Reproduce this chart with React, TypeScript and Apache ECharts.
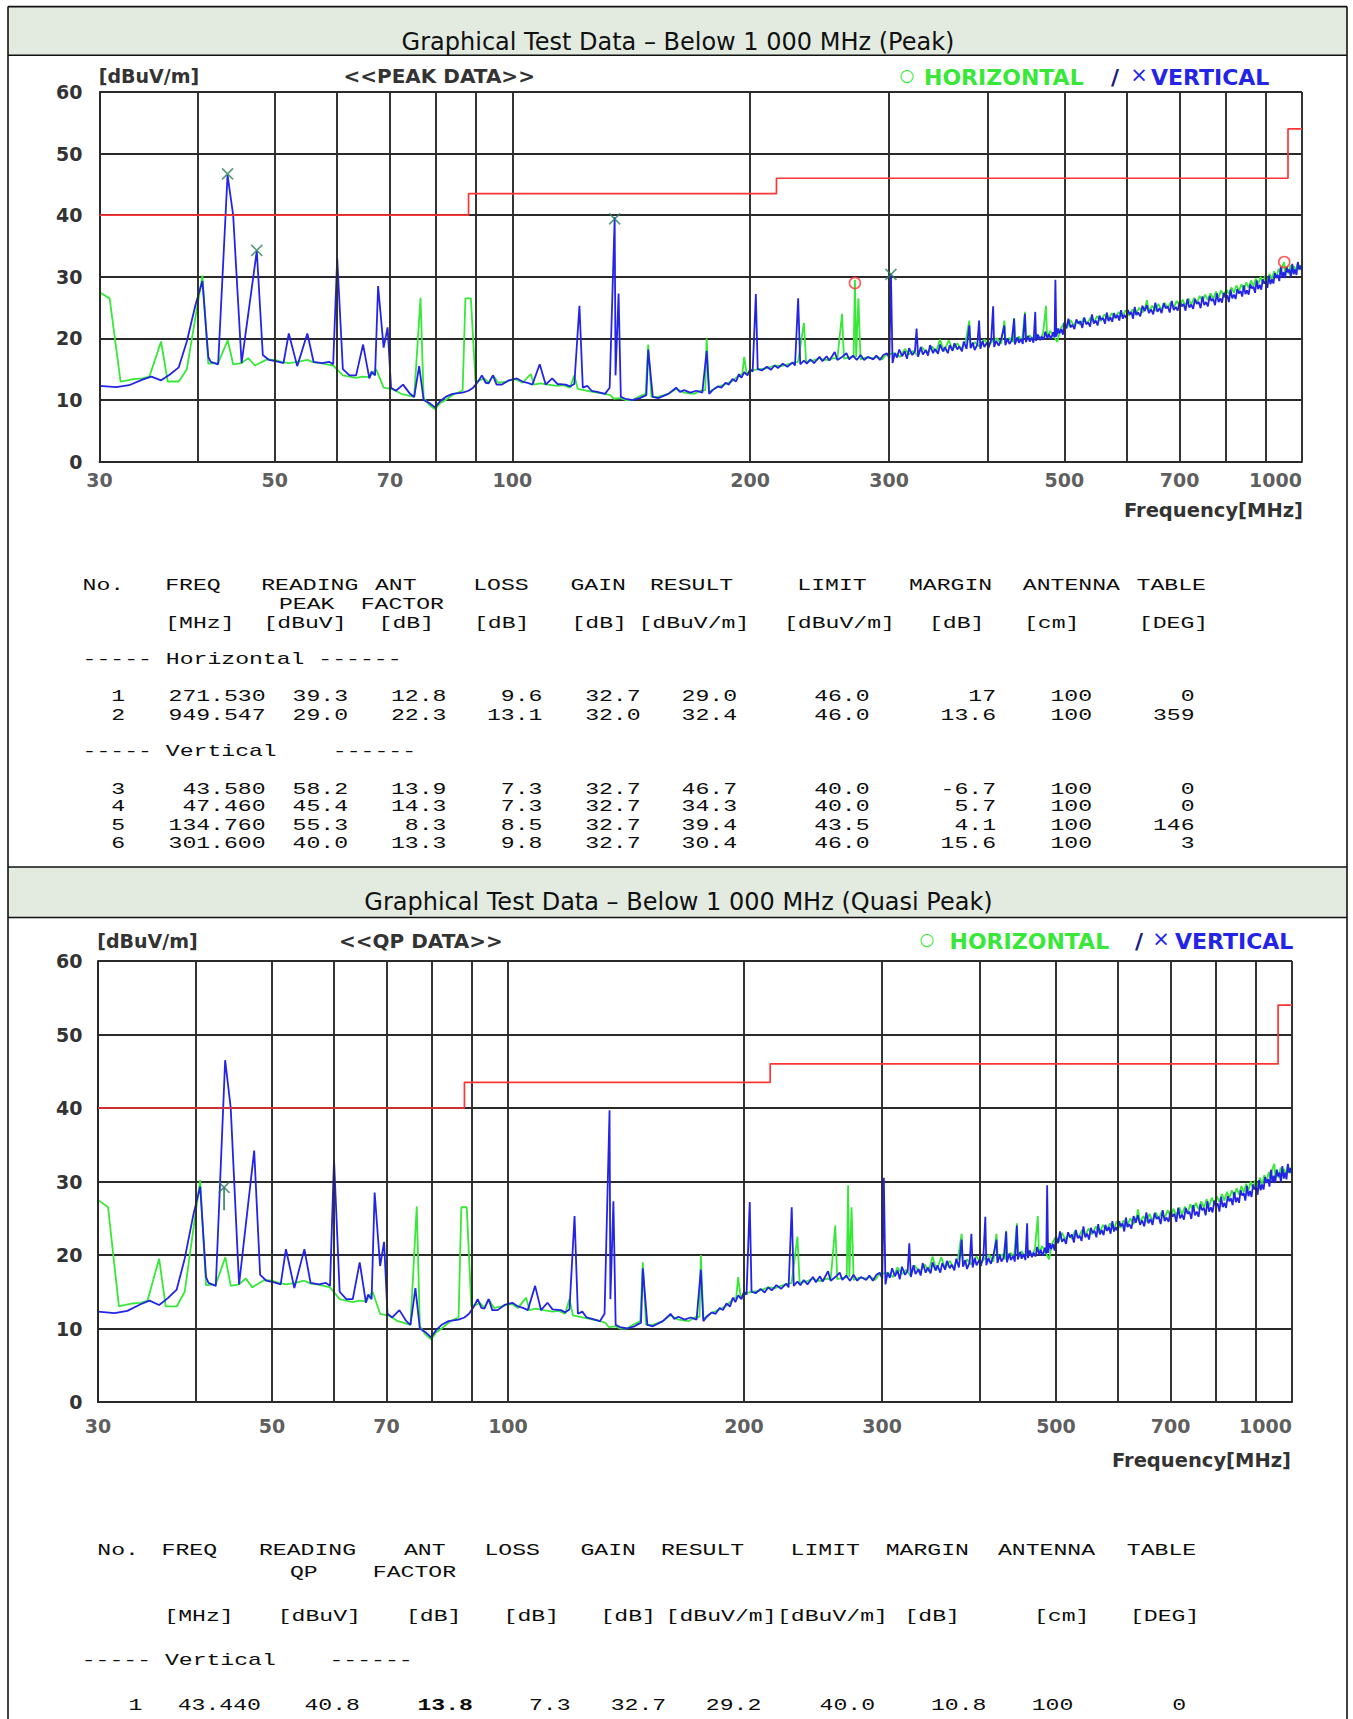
import { useEffect, useRef } from 'react';
import * as echarts from 'echarts';

// ---------------- data ----------------
const freqGridLines = [30, 40, 50, 60, 70, 80, 90, 100, 200, 300, 400, 500, 600, 700, 800, 900, 1000];
const freqTickLabels = [30, 50, 70, 100, 200, 300, 500, 700, 1000];

// green trace : horizontal polarisation [MHz, dBuV/m]
const horizontalTrace: [number, number][] = [
  [30, 27.5], [30.9, 26.5], [31.9, 13], [32.5, 13.2], [33.1, 13.4], [34, 13.5], [34.7, 13.8], [35.9, 19.5], [36.6, 13], [37.8, 13],
  [38.7, 15], [40.5, 30.2], [41.2, 15.9], [42.4, 16], [43.6, 19.7], [44.3, 15.8], [45.4, 16], [46.3, 16.8], [47.2, 15.6], [48.9, 16.6],
  [50, 16.5], [51, 16.2], [52.1, 16], [53.5, 16.2], [55, 16.5], [56, 16.1], [57.1, 16], [58.2, 15.8], [59.3, 15.6], [61, 14],
  [62.2, 13.8], [63.4, 13.6], [64.6, 13.8], [65.9, 13.7], [67.2, 15], [68.7, 12], [70.2, 11.8], [71.2, 11.5], [72.3, 11], [73.5, 10.8],
  [75.1, 10.5], [76.5, 26.6], [77.2, 10.3], [78.5, 9.2], [79.8, 8.5], [81, 9.5], [82.3, 10], [84.5, 11], [86.5, 11.5], [87.2, 26.5],
  [88.6, 26.5], [89.8, 13], [91, 13.2], [92.1, 13.5], [93.3, 12.8], [94.5, 14], [96, 12.8], [98.3, 13], [100, 13.3], [101.3, 13.3],
  [103, 12.8], [105.5, 14.2], [106.5, 12.5], [108.5, 12.7], [111, 12.5], [114, 12.3], [116, 12.4], [118.3, 12], [119.8, 14], [121, 11.8],
  [124.4, 11.5], [127, 11.3], [131, 11], [133, 10.8], [134.5, 10.2], [137, 10.3], [139, 10], [141.8, 10], [145, 10.6], [147.5, 11],
  [148.6, 19], [150, 10.5], [153, 10.5], [157.6, 11], [161.2, 11.8], [165, 11.2], [169.9, 11], [173, 11.5], [175.5, 11.6], [176.2, 20],
  [177.5, 11.3], [181, 12], [186.2, 12.6], [190, 13.1], [193.6, 14], [195.5, 14.2], [196.6, 17], [198, 14.3], [201, 14.8], [205.3, 15],
  [209, 15.1], [214.8, 15.6], [219, 15.5], [223, 15.8], [226.4, 16], [230, 16.2], [234, 22.5], [235.5, 16.2], [240, 16.4], [244.9, 16.8],
  [248, 16.5], [251.5, 16.5], [255, 16.8], [258, 16.7], [261.5, 24], [263, 16.7], [267, 16.9], [270.5, 17], [271.53, 29.5], [272.5, 17],
  [274.3, 26.5], [276, 16.6], [280, 16.9], [286.4, 16.8], [290, 17], [294, 16.6], [297, 17.3], [301.6, 17.5], [305, 17.6], [310, 17],
  [314, 18.3], [318, 17.4], [322, 18], [326, 17.2], [330, 18.6], [335, 17.6], [340, 18.7], [344, 17.8], [348, 19.8], [352, 17.9],
  [357, 19.7], [361, 18.2], [366, 19.2], [370, 18.3], [375, 19.5], [379, 22.9], [380.5, 18.5], [385, 19.4], [390, 18.7], [396, 19.8],
  [401, 18.9], [406, 19.6], [411, 20], [416, 19.1], [419.8, 22.9], [421.5, 19.3], [426, 20.1], [431, 19.4], [432, 23.3], [433.5, 19.5],
  [438, 20.3], [442, 19.5], [445.8, 24.3], [447.5, 19.7], [452, 20.5], [456, 19.8], [461, 20.7], [466, 19.9], [470, 20.8], [474, 25.3],
  [475.5, 20.2], [480, 21.2], [485, 20.3], [490, 19.4], [494, 21.5], [499, 22.4], [504, 21.8], [509, 23], [514, 22.1], [519, 22.9],
  [524, 22.2], [529, 23.3], [534, 22.4], [540, 23.4], [545, 22.6], [550, 23.6], [556, 22.8], [562, 23.9], [568, 23], [574, 24.1],
  [580, 23.3], [586, 24.3], [592, 23.5], [598, 24.6], [604, 23.7], [610, 24.7], [616, 23.9], [622, 25], [628, 24.2], [634, 25.3],
  [636, 26.2], [640, 24.4], [646, 25.3], [652, 24.5], [658, 25.6], [664, 24.6], [670, 25.8], [676, 24.9], [682, 25.9], [688, 25],
  [694, 26.1], [700, 25.2], [706, 26.3], [712, 25.3], [718, 26.5], [724, 25.5], [730, 26.6], [736, 25.7], [742, 26.9], [748, 26],
  [754, 27.1], [760, 26.2], [766, 27.3], [772, 26.4], [778, 27.6], [784, 26.6], [790, 27.8], [796, 26.9], [802, 28], [808, 27.2],
  [814, 28.3], [820, 27.4], [826, 28.6], [832, 27.7], [838, 28.8], [844, 27.9], [850, 29.1], [856, 28.2], [862, 29.4], [868, 28.5],
  [874, 29.7], [880, 28.8], [886, 30], [892, 29], [898, 30.2], [904, 29.3], [910, 30.5], [916, 29.6], [922, 30.9], [928, 29.9],
  [934, 31.3], [940, 30.4], [944, 31.7], [949.5, 32.4], [952, 30.6], [957, 31.6], [962, 30.5], [967, 31.9], [972, 30.8], [977, 31.7],
  [982, 30.9], [987, 32.1], [992, 31.1], [996, 31.9], [1000, 31.3],
];

// blue trace : vertical polarisation [MHz, dBuV/m]
const verticalTrace: [number, number][] = [
  [30, 12.3], [31.5, 12.1], [32.7, 12.4], [34, 13.3], [34.9, 13.8], [35.9, 13.2], [36.8, 14.1], [37.8, 15.3], [38.7, 19.5], [39.7, 25.5],
  [40.5, 29.3], [41.2, 17], [41.5, 16.2], [42.4, 15.8], [43.58, 46.5], [44.3, 40], [45.4, 16], [47.46, 34.2], [48.3, 17.3], [49.2, 16.5],
  [50.6, 16.2], [51.3, 16], [52.1, 20.8], [53.4, 15.5], [55, 20.8], [56, 16.2], [57.4, 16], [58.6, 16.2], [59.3, 15.8], [60, 33],
  [61, 15], [62.2, 14], [63.4, 14], [64.7, 19], [65.9, 13.5], [66.3, 14.6], [67, 14], [67.6, 28.5], [68.7, 18.5], [69.5, 21.8],
  [70.2, 12], [71.2, 11.5], [72.7, 12.5], [74.2, 11], [75.1, 10.5], [76.2, 15.5], [77.2, 10], [78.5, 9.5], [79.8, 8.8], [81, 9.8],
  [82.3, 10.5], [84, 11], [86.5, 11.2], [88, 11.5], [89.2, 12], [90.5, 13], [91.5, 14], [92.5, 12.8], [93.3, 12.7], [94.5, 14],
  [95.5, 12.5], [97, 12.5], [99, 13.2], [101.3, 13.5], [103, 13], [104.5, 12.8], [106, 12.5], [108.3, 15.8], [110.2, 12.5], [112.3, 13.5],
  [114, 12.6], [116.8, 12.5], [118.3, 12.2], [119.8, 12.6], [121.6, 25.3], [122.8, 12], [124.4, 12.3], [126, 11.5], [128, 11.3], [131, 11],
  [132.8, 12], [134.76, 39.7], [135.1, 14], [136.3, 27.3], [137.2, 10.5], [139, 10.2], [141.8, 10], [145, 10.3], [147.8, 10.8], [148.6, 18.2],
  [150.6, 10.5], [153, 10.3], [157.6, 11], [161.2, 12], [163, 11.3], [165, 11.6], [168, 11.2], [171, 11.5], [174, 11.2], [176.2, 18],
  [177.5, 11], [179.3, 11.6], [182, 12.2], [184, 12], [186.2, 12.8], [188, 12.5], [190, 13.4], [192, 13], [193.6, 14.2], [195, 13.6],
  [196.6, 14.5], [198.5, 14], [200, 15], [201.5, 14.6], [203.4, 27.2], [204.5, 15], [207, 14.8], [210, 15.4], [212.5, 14.9], [214.8, 15.6],
  [217, 15.2], [220, 15.9], [223, 15.4], [226.4, 16.1], [228, 15.6], [230.1, 26.5], [231.5, 15.8], [234, 16.4], [236, 15.9], [238.4, 16.6],
  [241, 16], [244.9, 17], [247, 16.3], [250, 17.1], [252, 16.4], [256, 17.8], [258, 16.5], [261.5, 17], [264.9, 17.6], [267, 16.6],
  [270, 17.2], [273, 16.5], [276, 17.3], [278.9, 16.5], [282, 17], [286.4, 16.6], [289, 17.2], [292, 16.5], [295, 17.3], [298, 17.6],
  [300.2, 16.8], [301.6, 30.5], [303, 16], [305, 17.6], [307, 16.9], [309, 18.2], [311.6, 17.1], [314, 17.9], [316, 16.7], [318, 18.4],
  [321, 17.3], [323.5, 17.9], [325, 21.6], [326.5, 17], [329, 18.6], [331, 17.4], [334, 18.1], [336, 17.2], [338, 18.9], [341, 17.6],
  [343, 18.3], [346, 17.5], [348, 19], [351, 17.9], [353, 18.6], [356, 17.6], [358, 18.9], [361, 18], [363, 19.2], [366, 18.2],
  [368, 18.7], [371, 17.9], [373, 19.5], [376, 18.3], [379, 22.1], [380.5, 18.4], [383, 19.3], [385, 18.1], [388, 19], [390, 22.9],
  [391.5, 18.3], [394, 19.6], [396, 18.6], [399, 19.3], [401, 18.5], [404, 19.8], [406.3, 25.2], [407.5, 18.6], [410, 19.6], [413, 18.8],
  [416, 19.9], [419.8, 22.1], [421, 18.9], [424, 20], [426, 19.1], [429, 19.7], [431.9, 23.2], [433, 19], [436, 20.2], [438, 19.3],
  [441, 19.9], [443, 19.1], [445.8, 24], [447, 19.4], [450, 20.4], [452, 19.5], [455, 20.1], [457, 19.3], [459.4, 24.3], [460.5, 19.6],
  [463, 20.6], [466, 19.7], [468, 20.3], [471, 19.8], [473, 21.1], [476, 20], [478, 20.7], [481, 19.9], [484, 21], [486, 20.2],
  [487.2, 29.5], [488.5, 20.3], [491, 21.6], [493, 20.8], [495.5, 21.5], [498, 20.6], [500, 22.6], [503, 21.6], [506, 23.2], [509, 21.8],
  [512, 22.2], [515, 21.5], [518, 23.1], [521, 22.4], [524, 22.8], [527, 21.7], [530, 23.4], [533, 22.3], [536, 22.6], [539, 21.9],
  [542, 23.9], [545, 22.4], [548, 22.9], [551, 22.1], [554, 23.7], [557, 23], [560, 23.3], [563, 22.4], [566, 24.2], [569, 22.8],
  [572, 23.4], [575, 22.7], [578, 24.1], [581, 23.3], [584, 23.8], [587, 22.9], [590, 24.6], [593, 23.2], [596, 23.8], [599, 23.3],
  [602, 24.6], [605, 23.9], [608, 24.3], [611, 23.2], [614, 25.1], [617, 23.8], [620, 24.2], [624, 23.6], [628, 25.3], [632, 24.4],
  [636, 25.4], [640, 24.1], [644, 24.7], [648, 23.9], [652, 25.8], [656, 24.3], [660, 24.9], [664, 24.1], [668, 25.7], [672, 24.9],
  [676, 25.2], [680, 24.2], [684, 26.1], [688, 24.6], [692, 25.1], [696, 24.5], [700, 26], [704, 25.2], [708, 25.6], [712, 24.5],
  [716, 26.4], [720, 25], [724, 25.5], [728, 24.8], [732, 26.4], [736, 25.6], [740, 25.9], [744, 24.9], [748, 26.8], [752, 25.4],
  [756, 25.9], [760, 25.2], [764, 26.9], [768, 26.1], [772, 26.4], [776, 25.4], [780, 27.3], [784, 25.9], [788, 26.5], [792, 25.8],
  [796, 27.4], [800, 26.6], [804, 27], [808, 25.9], [812, 27.9], [816, 26.5], [820, 27.1], [824, 26.4], [828, 28], [832, 27.3],
  [836, 27.7], [840, 26.8], [844, 28.6], [848, 27.2], [852, 27.8], [856, 27.1], [860, 28.8], [864, 28.1], [868, 28.4], [872, 27.4],
  [876, 29.4], [880, 28], [884, 28.7], [888, 27.9], [892, 29.6], [896, 28.9], [900, 29.3], [904, 28.2], [908, 30.2], [912, 28.8],
  [916, 29.6], [920, 28.9], [924, 30.6], [928, 29.8], [932, 30.3], [936, 29.3], [940, 31.6], [944, 29.9], [948, 30.8], [952, 29.8],
  [956, 31.6], [960, 30.7], [964, 31.2], [968, 29.9], [972, 32.1], [976, 30.4], [980, 31.2], [984, 30.3], [988, 32.4], [992, 31.2],
  [996, 31.8], [1000, 30.9],
];

const limitFreq = [30, 88, 88, 216, 216, 960, 960, 1000];
const limitLevel = [40, 40, 43.5, 43.5, 46, 46, 54, 54];

const peakHorizontalMarks: [number, number][] = [[271.53, 29.0], [949.547, 32.4]];
const peakVerticalMarks: [number, number][] = [[43.58, 46.7], [47.46, 34.3], [134.76, 39.4], [301.6, 30.4]];
const qpVerticalMarks: [number, number][] = [[43.44, 29.2]];
const qpVerticalStick: [number, number][] = [[43.44, 29.2], [43.44, 26.1]];

// table texts
const peakHeader = ['No.', 'FREQ', 'READING', 'ANT', 'LOSS', 'GAIN', 'RESULT', 'LIMIT', 'MARGIN', 'ANTENNA', 'TABLE'];
const peakSubHeader = ['PEAK', 'FACTOR'];
const peakUnits = ['[MHz]', '[dBuV]', '[dB]', '[dB]', '[dB]', '[dBuV/m]', '[dBuV/m]', '[dB]', '[cm]', '[DEG]'];
const peakHorizontalRows = [
  ['1', '271.530', '39.3', '12.8', '9.6', '32.7', '29.0', '46.0', '17', '100', '0'],
  ['2', '949.547', '29.0', '22.3', '13.1', '32.0', '32.4', '46.0', '13.6', '100', '359'],
];
const peakVerticalRows = [
  ['3', '43.580', '58.2', '13.9', '7.3', '32.7', '46.7', '40.0', '-6.7', '100', '0'],
  ['4', '47.460', '45.4', '14.3', '7.3', '32.7', '34.3', '40.0', '5.7', '100', '0'],
  ['5', '134.760', '55.3', '8.3', '8.5', '32.7', '39.4', '43.5', '4.1', '100', '146'],
  ['6', '301.600', '40.0', '13.3', '9.8', '32.7', '30.4', '46.0', '15.6', '100', '3'],
];
const qpHeader = ['No.', 'FREQ', 'READING', 'ANT', 'LOSS', 'GAIN', 'RESULT', 'LIMIT', 'MARGIN', 'ANTENNA', 'TABLE'];
const qpSubHeader = ['QP', 'FACTOR'];
const qpUnits = ['[MHz]', '[dBuV]', '[dB]', '[dB]', '[dB]', '[dBuV/m]', '[dBuV/m]', '[dB]', '[cm]', '[DEG]'];
const qpVerticalRows = [['1', '43.440', '40.8', '13.8', '7.3', '32.7', '29.2', '40.0', '10.8', '100', '0']];

// ---------------- styling / layout ----------------
const SANS = "'DejaVu Sans', 'Liberation Sans', sans-serif";
const MONO = "'Liberation Mono', 'Courier New', monospace";
const GREEN = '#38e838';
const BLUE = '#2424e6';
const RED = '#ff3535';
const MARK = '#2e8060';
const GRID = '#2a2a2a';
const LABEL = '#333333';
const BAND = '#e3ebe1';
const GRID_W = 1.9;

const GRIDS = [
  { left: 99.5, top: 92, width: 1202.5, height: 369.6 },
  { left: 98, top: 961, width: 1194, height: 441 },
];

const peakHeadX = [82.6, 165.2, 261.2, 375, 473.2, 570.5, 650, 797.3, 909, 1022.8, 1136.6];
const peakSubX = [279, 360.7];
const peakUnitX = [165.2, 263.4, 378.6, 474, 571.4, 638.4, 784, 929, 1024, 1138.8];
const peakValueRight = [125, 265.6, 348, 446.4, 542.4, 640.6, 737, 869.6, 996, 1092, 1194.6];
const peakRowY = { head: 585, sub: 604, unit: 623.3, hSect: 659, h: [696, 715], vSect: 751, v: [789.3, 806.7, 825.7, 843.3] };

const qpHeadX = [97.3, 161.6, 259, 404, 484.4, 580.4, 661, 790.6, 885.7, 998, 1126.8];
const qpSubX = [290, 372.8];
const qpUnitX = [164.3, 277.7, 406, 503.6, 600.4, 665.6, 777, 904.5, 1034, 1130];
const qpValueX = [128.6, 177.7, 304.5, 417.4, 529, 610.7, 705.8, 819.6, 931, 1031.7, 1172.3];
const qpRowY = { head: 1550, sub: 1572.7, unit: 1616.7, vSect: 1660.7, v: [1705] };

const MONO_SIZE = 17;
const MONO_SCALE_X = 1.36;

type TxtOpt = { fill?: string; size?: number; family?: string; weight?: string; align?: string; scaleX?: number };
function txt(text: string, x: number, y: number, o: TxtOpt = {}) {
  const align = o.align ?? 'left';
  return {
    type: 'text',
    x,
    y,
    scaleX: o.scaleX ?? 1,
    silent: true,
    z: 10,
    style: {
      text,
      fill: o.fill ?? '#1a1a1a',
      fontSize: o.size ?? 19,
      fontFamily: o.family ?? SANS,
      fontWeight: o.weight ?? 'normal',
      align,
      textAlign: align,
      verticalAlign: 'middle',
      textVerticalAlign: 'middle',
    },
  };
}
function hline(x1: number, x2: number, y: number, w = 1.6) {
  return { type: 'line', silent: true, z: 11, shape: { x1, y1: y, x2, y2: y }, style: { stroke: '#111', lineWidth: w } };
}
function vline(x: number, y1: number, y2: number, w = 1.6) {
  return { type: 'line', silent: true, z: 11, shape: { x1: x, y1, x2: x, y2 }, style: { stroke: '#111', lineWidth: w } };
}

function tableGraphics() {
  const g: any[] = [];
  const mono = (t: string, x: number, y: number, align = 'left', weight = 'normal') =>
    txt(t, x, y, { family: MONO, size: MONO_SIZE, fill: '#0d0d0d', align, weight, scaleX: MONO_SCALE_X });
  // peak table
  peakHeader.forEach((t, i) => g.push(mono(t, peakHeadX[i], peakRowY.head)));
  peakSubHeader.forEach((t, i) => g.push(mono(t, peakSubX[i], peakRowY.sub)));
  peakUnits.forEach((t, i) => g.push(mono(t, peakUnitX[i], peakRowY.unit)));
  g.push(mono('----- Horizontal ------', 82.6, peakRowY.hSect));
  peakHorizontalRows.forEach((row, r) => row.forEach((t, i) => g.push(mono(t, peakValueRight[i], peakRowY.h[r], 'right'))));
  g.push(mono('----- Vertical', 82.6, peakRowY.vSect));
  g.push(mono('------', 332.8, peakRowY.vSect));
  peakVerticalRows.forEach((row, r) => row.forEach((t, i) => g.push(mono(t, peakValueRight[i], peakRowY.v[r], 'right'))));
  // qp table
  qpHeader.forEach((t, i) => g.push(mono(t, qpHeadX[i], qpRowY.head)));
  qpSubHeader.forEach((t, i) => g.push(mono(t, qpSubX[i], qpRowY.sub)));
  qpUnits.forEach((t, i) => g.push(mono(t, qpUnitX[i], qpRowY.unit)));
  g.push(mono('----- Vertical', 81.7, qpRowY.vSect));
  g.push(mono('------', 329.5, qpRowY.vSect));
  qpVerticalRows.forEach((row, r) =>
    row.forEach((t, i) => g.push(mono(t, qpValueX[i], qpRowY.v[r], 'left', i === 3 ? 'bold' : 'normal')))
  );
  return g;
}

function frameGraphics() {
  const L = 8;
  const R = 1347;
  const g: any[] = [
    { type: 'rect', silent: true, z: 0, shape: { x: L, y: 6.6, width: R - L, height: 48.6 }, style: { fill: BAND } },
    { type: 'rect', silent: true, z: 0, shape: { x: L, y: 867, width: R - L, height: 50.5 }, style: { fill: BAND } },
    hline(L, R, 6.6),
    hline(L, R, 55.2),
    hline(L, R, 867),
    hline(L, R, 917.5),
    vline(L, 6.6, 1719),
    vline(R, 6.6, 1719),
    txt('Graphical Test Data – Below 1 000 MHz (Peak)', 678, 41.7, { size: 24, align: 'center', fill: '#111' }),
    txt('Graphical Test Data – Below 1 000 MHz (Quasi Peak)', 678.5, 902, { size: 24, align: 'center', fill: '#111' }),
    // top chart captions
    txt('[dBuV/m]', 98.7, 76, { fill: LABEL, weight: 'bold' }),
    txt('<<PEAK DATA>>', 343.5, 76, { fill: LABEL, weight: 'bold', size: 20 }),
    txt('○', 907, 75, { fill: GREEN, size: 17, align: 'center' }),
    txt('HORIZONTAL', 924, 77, { fill: GREEN, weight: 'bold', size: 22 }),
    txt('/', 1115, 77, { fill: '#1a1a80', weight: 'bold', align: 'center', size: 22 }),
    txt('×', 1139, 75, { fill: BLUE, align: 'center', size: 21 }),
    txt('VERTICAL', 1151, 77, { fill: BLUE, weight: 'bold', size: 22 }),
    txt('Frequency[MHz]', 1303, 510, { fill: LABEL, weight: 'bold', align: 'right', size: 19.5 }),
    // bottom chart captions
    txt('[dBuV/m]', 97.3, 941, { fill: LABEL, weight: 'bold' }),
    txt('<<QP DATA>>', 339, 941, { fill: LABEL, weight: 'bold', size: 20 }),
    txt('○', 927, 939, { fill: GREEN, size: 17, align: 'center' }),
    txt('HORIZONTAL', 949.5, 941, { fill: GREEN, weight: 'bold', size: 22 }),
    txt('/', 1139, 941, { fill: '#1a1a80', weight: 'bold', align: 'center', size: 22 }),
    txt('×', 1161, 939, { fill: BLUE, align: 'center', size: 21 }),
    txt('VERTICAL', 1175, 941, { fill: BLUE, weight: 'bold', size: 22 }),
    txt('Frequency[MHz]', 1291, 1460, { fill: LABEL, weight: 'bold', align: 'right', size: 19.5 }),
  ];
  return g;
}

const CROSS = 'path://M0,0L10,10M10,0L0,10';

function chartSeries(g: number, labelDist: number) {
  const last = freqTickLabels.length - 1;
  const series: any[] = [
    {
      type: 'scatter',
      xAxisIndex: g,
      yAxisIndex: g,
      z: 1,
      silent: true,
      clip: false,
      symbolSize: 1,
      itemStyle: { color: 'rgba(0,0,0,0)' },
      data: freqTickLabels.map((f, i) => (i === last ? { value: [f, 0], label: { align: 'right' } } : { value: [f, 0] })),
      label: {
        show: true,
        position: 'bottom',
        distance: labelDist,
        formatter: (p: any) => String(p.value[0]),
        color: LABEL,
        fontSize: 19,
        fontWeight: 'bold',
        fontFamily: SANS,
      },
      markLine: {
        silent: true,
        symbol: 'none',
        animation: false,
        label: { show: false },
        lineStyle: { color: GRID, width: GRID_W, type: 'solid' },
        data: freqGridLines.map((f) => ({ xAxis: f })),
      },
    },
    {
      type: 'line',
      name: 'HORIZONTAL',
      xAxisIndex: g,
      yAxisIndex: g,
      z: 3,
      silent: true,
      showSymbol: false,
      symbol: 'none',
      data: horizontalTrace,
      lineStyle: { color: GREEN, width: 1.8 },
    },
    {
      type: 'line',
      name: 'VERTICAL',
      xAxisIndex: g,
      yAxisIndex: g,
      z: 4,
      silent: true,
      showSymbol: false,
      symbol: 'none',
      data: verticalTrace,
      lineStyle: { color: BLUE, width: 1.8 },
    },
    {
      type: 'line',
      name: 'LIMIT',
      xAxisIndex: g,
      yAxisIndex: g,
      z: 5,
      silent: true,
      showSymbol: false,
      symbol: 'none',
      data: limitFreq.map((f, i) => [f, limitLevel[i]]),
      lineStyle: { color: RED, width: 1.7 },
    },
  ];
  if (g === 0) {
    series.push(
      {
        type: 'scatter',
        xAxisIndex: g,
        yAxisIndex: g,
        z: 6,
        silent: true,
        symbol: 'circle',
        symbolSize: 11,
        data: peakHorizontalMarks,
        itemStyle: { color: 'rgba(0,0,0,0)', borderColor: RED, borderWidth: 1.6 },
      },
      {
        type: 'scatter',
        xAxisIndex: g,
        yAxisIndex: g,
        z: 6,
        silent: true,
        symbol: CROSS,
        symbolSize: 11,
        data: peakVerticalMarks,
        itemStyle: { color: 'rgba(0,0,0,0)', borderColor: MARK, borderWidth: 1.6 },
      }
    );
  } else {
    series.push(
      {
        type: 'line',
        xAxisIndex: g,
        yAxisIndex: g,
        z: 6,
        silent: true,
        showSymbol: false,
        symbol: 'none',
        data: qpVerticalStick,
        lineStyle: { color: MARK, width: 1.6 },
      },
      {
        type: 'scatter',
        xAxisIndex: g,
        yAxisIndex: g,
        z: 6,
        silent: true,
        symbol: CROSS,
        symbolSize: 11,
        data: qpVerticalMarks,
        itemStyle: { color: 'rgba(0,0,0,0)', borderColor: MARK, borderWidth: 1.6 },
      }
    );
  }
  return series;
}

function xAxis(g: number) {
  return {
    type: 'log',
    gridIndex: g,
    logBase: 10,
    min: 30,
    max: 1000,
    axisLabel: { show: false },
    axisTick: { show: false },
    minorTick: { show: false },
    splitLine: { show: false },
    axisLine: { show: true, lineStyle: { color: GRID, width: GRID_W } },
  };
}
function yAxis(g: number, margin: number) {
  return {
    type: 'value',
    gridIndex: g,
    min: 0,
    max: 60,
    interval: 10,
    axisLabel: { margin, color: LABEL, fontSize: 19, fontWeight: 'bold', fontFamily: SANS },
    axisTick: { show: false },
    axisLine: { show: true, lineStyle: { color: GRID, width: GRID_W } },
    splitLine: { show: true, lineStyle: { color: GRID, width: GRID_W } },
  };
}

function buildOption() {
  return {
    animation: false,
    backgroundColor: '#ffffff',
    grid: GRIDS.map((g) => ({ ...g, containLabel: false, outerBoundsMode: 'none' })),
    xAxis: [xAxis(0), xAxis(1)],
    yAxis: [yAxis(0, 17), yAxis(1, 15.5)],
    series: [...chartSeries(0, 8), ...chartSeries(1, 14)],
    graphic: { elements: [...frameGraphics(), ...tableGraphics()] },
  };
}

export default function App() {
  const ref = useRef<HTMLDivElement>(null);
  useEffect(() => {
    document.body.style.margin = '0';
    const el = ref.current;
    if (!el) return;
    const chart = echarts.init(el, undefined, { renderer: 'svg', width: 1353, height: 1719 });
    chart.setOption(buildOption() as any);
    return () => chart.dispose();
  }, []);
  return <div ref={ref} style={{ width: 1353, height: 1719, background: '#fff' }} />;
}
